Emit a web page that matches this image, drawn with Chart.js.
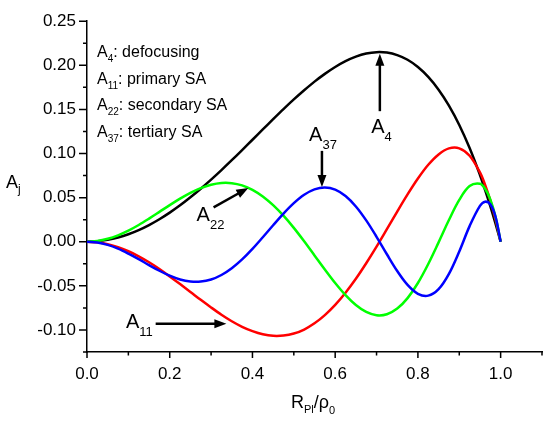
<!DOCTYPE html>
<html>
<head>
<meta charset="utf-8">
<script src="https://cdn.jsdelivr.net/npm/chart.js@4/dist/chart.umd.min.js"></script>
<style>
  body { margin: 0; background: #fff; }
</style>
</head>
<body>
<canvas id="chart" width="550" height="422"></canvas>
<script>
// radius values (R_Pl / rho_0)
const rValues = [0, 0.025, 0.05, 0.075, 0.1, 0.125, 0.15, 0.175, 0.2, 0.225, 0.25, 0.275, 0.3, 0.325, 0.35, 0.375,
    0.4, 0.425, 0.45, 0.475, 0.5, 0.525, 0.55, 0.575, 0.6, 0.625, 0.65, 0.675, 0.7, 0.725, 0.75, 0.775, 0.8, 0.825,
    0.85, 0.875, 0.9, 0.925, 0.95, 0.9625, 0.975, 0.9875, 1.0];

// A4: defocusing
const a4Values = [0, 0.0005, 0.0021, 0.0048, 0.0085, 0.0132, 0.0189, 0.0255, 0.0330, 0.0413, 0.0504, 0.0601, 0.0704,
    0.0812, 0.0924, 0.1039, 0.1156, 0.1273, 0.1389, 0.1503, 0.1613, 0.1717, 0.1815, 0.1903, 0.1981, 0.2047, 0.2098,
    0.2133, 0.2149, 0.2144, 0.2116, 0.2063, 0.1981, 0.1869, 0.1724, 0.1543, 0.1324, 0.1062, 0.0757, 0.0586, 0.0404,
    0.0208, 0];

// A11: primary SA
const a11Values = [0, -0.0007, -0.0028, -0.0061, -0.0108, -0.0165, -0.0233, -0.0309, -0.0393, -0.0480, -0.0569,
    -0.0659, -0.0745, -0.0827, -0.0901, -0.0964, -0.1013, -0.1049, -0.1067, -0.1064, -0.1041, -0.0995, -0.0925,
    -0.0832, -0.0716, -0.0578, -0.0420, -0.0244, -0.0056, 0.0142, 0.0342, 0.0536, 0.0716, 0.0872, 0.0990, 0.1058,
    0.1059, 0.0975, 0.0786, 0.0645, 0.0470, 0.0256, 0];

// A22: secondary SA
const a22Values = [0, 0.0008, 0.0033, 0.0073, 0.0126, 0.0190, 0.0262, 0.0338, 0.0415, 0.0488, 0.0554, 0.0608, 0.0646,
    0.0666, 0.0664, 0.0639, 0.0589, 0.0514, 0.0415, 0.0295, 0.0157, 0.0005, -0.0155, -0.0315, -0.0468, -0.0605,
    -0.0717, -0.0796, -0.0833, -0.0822, -0.0758, -0.0639, -0.0468, -0.0252, -0.0007, 0.0246, 0.0474, 0.0631, 0.0658,
    0.0600, 0.0480, 0.0285, 0];

// A37: tertiary SA
const a37Values = [0, -0.0009, -0.0036, -0.0079, -0.0135, -0.0198, -0.0265, -0.0329, -0.0385, -0.0428, -0.0451,
    -0.0452, -0.0428, -0.0377, -0.0300, -0.0200, -0.0081, 0.0051, 0.0187, 0.0319, 0.0437, 0.0532, 0.0593, 0.0614,
    0.0590, 0.0518, 0.0400, 0.0242, 0.0056, -0.0142, -0.0332, -0.0489, -0.0590, -0.0611, -0.0537, -0.0364, -0.0110,
    0.0177, 0.0406, 0.0454, 0.0424, 0.0285, 0];

const legendLines = [
    ['A', '4', ': defocusing'],
    ['A', '11', ': primary SA'],
    ['A', '22', ': secondary SA'],
    ['A', '37', ': tertiary SA']
];

const xMajorTicks = [0, 0.2, 0.4, 0.6, 0.8, 1.0];
const xMinorTicks = [0.1, 0.3, 0.5, 0.7, 0.9, 1.1];
const yMajorTicks = [-0.10, -0.05, 0, 0.05, 0.10, 0.15, 0.20, 0.25];
const yMinorTicks = [-0.125, -0.075, -0.025, 0.025, 0.075, 0.125, 0.175, 0.225];

// arrows + labels, in data units
const notes = [
    { sub: '4', tx: 0.687, ty: 0.1233, from: [0.708, 0.148], to: [0.708, 0.213] },
    { sub: '37', tx: 0.537, ty: 0.1144, from: [0.568, 0.103], to: [0.568, 0.062] },
    { sub: '22', tx: 0.265, ty: 0.0233, from: [0.306, 0.039], to: [0.390, 0.061] },
    { sub: '11', tx: 0.094, ty: -0.0978, from: [0.166, -0.093], to: [0.337, -0.093] }
];

const FONT = 'Arial, "Liberation Sans", sans-serif';

function toPoints(ys) {
    return rValues.map((r, i) => ({ x: r, y: ys[i] }));
}

function drawSub(ctx, x, y, base, sub, rest, size, subSize, drop) {
    ctx.font = size + 'px ' + FONT;
    ctx.fillText(base, x, y);
    x += ctx.measureText(base).width;
    ctx.font = subSize + 'px ' + FONT;
    ctx.fillText(sub, x, y + drop);
    x += ctx.measureText(sub).width;
    if (rest) {
        ctx.font = size + 'px ' + FONT;
        ctx.fillText(rest, x, y);
    }
}

function arrow(ctx, x1, y1, x2, y2) {
    const a = Math.atan2(y2 - y1, x2 - x1);
    const c = Math.cos(a), s = Math.sin(a);
    const hl = 12, hw = 4.5;
    ctx.lineWidth = 2.5;
    ctx.beginPath();
    ctx.moveTo(x1, y1);
    ctx.lineTo(x2 - c * hl * 0.7, y2 - s * hl * 0.7);
    ctx.stroke();
    ctx.beginPath();
    ctx.moveTo(x2, y2);
    ctx.lineTo(x2 - hl * c + hw * s, y2 - hl * s - hw * c);
    ctx.lineTo(x2 - hl * c - hw * s, y2 - hl * s + hw * c);
    ctx.closePath();
    ctx.fill();
}

const extras = {
    id: 'extras',
    afterDraw(chart) {
        const ctx = chart.ctx;
        const xs = chart.scales.x, ys = chart.scales.y;
        const area = chart.chartArea;
        ctx.save();
        ctx.strokeStyle = '#000';
        ctx.fillStyle = '#000';
        ctx.textBaseline = 'alphabetic';
        ctx.textAlign = 'left';

        // tick marks
        ctx.lineWidth = 1.5;
        ctx.beginPath();
        xMajorTicks.forEach(v => { const p = xs.getPixelForValue(v); ctx.moveTo(p, area.bottom); ctx.lineTo(p, area.bottom + 6); });
        xMinorTicks.forEach(v => { const p = xs.getPixelForValue(v); ctx.moveTo(p, area.bottom); ctx.lineTo(p, area.bottom + 3.5); });
        yMajorTicks.forEach(v => { const p = ys.getPixelForValue(v); ctx.moveTo(area.left, p); ctx.lineTo(area.left - 8, p); });
        yMinorTicks.forEach(v => { const p = ys.getPixelForValue(v); ctx.moveTo(area.left, p); ctx.lineTo(area.left - 4, p); });
        ctx.stroke();

        // legend block
        legendLines.forEach((l, i) => {
            drawSub(ctx, 97, 57 + i * 26.5, l[0], l[1], l[2], 16, 10, 5);
        });

        // annotations
        notes.forEach(n => {
            drawSub(ctx, xs.getPixelForValue(n.tx), ys.getPixelForValue(n.ty), 'A', n.sub, '', 20, 13, 8);
            arrow(ctx, xs.getPixelForValue(n.from[0]), ys.getPixelForValue(n.from[1]),
                xs.getPixelForValue(n.to[0]), ys.getPixelForValue(n.to[1]));
        });

        // axis titles
        drawSub(ctx, 6, 188, 'A', 'j', '', 18, 12, 5);
        ctx.font = '18px ' + FONT;
        let x = 291;
        ctx.fillText('R', x, 408); x += ctx.measureText('R').width;
        ctx.font = '11px ' + FONT;
        ctx.fillText('Pl', x, 413); x += ctx.measureText('Pl').width;
        ctx.font = '18px ' + FONT;
        ctx.fillText('/\u03c1', x, 408); x += ctx.measureText('/\u03c1').width;
        ctx.font = '11px ' + FONT;
        ctx.fillText('0', x, 414);
        ctx.restore();
    }
};

const line = (data, color, order) => ({
    data: toPoints(data),
    borderColor: color,
    borderWidth: 2.5,
    pointRadius: 0,
    fill: false,
    tension: 0.35,
    order: order
});

new Chart(document.getElementById('chart').getContext('2d'), {
    type: 'line',
    data: {
        datasets: [
            line(a4Values, '#000000', 4),
            line(a11Values, '#ff0000', 3),
            line(a22Values, '#00ff00', 2),
            line(a37Values, '#0000ff', 1)
        ]
    },
    options: {
        responsive: false,
        animation: false,
        layout: { padding: { top: 14, right: 8, left: 0, bottom: 0 } },
        plugins: { legend: { display: false }, tooltip: { enabled: false } },
        scales: {
            x: {
                type: 'linear',
                min: 0,
                max: 1.1,
                grid: { display: false, drawTicks: false },
                border: { display: true, color: '#000', width: 1.5 },
                ticks: {
                    stepSize: 0.2,
                    includeBounds: false,
                    padding: 12,
                    color: '#000',
                    font: { size: 17, family: FONT },
                    maxRotation: 0,
                    callback: v => v.toFixed(1)
                },
                afterFit: s => { s.height = 70; }
            },
            y: {
                min: -0.125,
                max: 0.25,
                grid: { display: false, drawTicks: false },
                border: { display: true, color: '#000', width: 1.5 },
                ticks: {
                    stepSize: 0.05,
                    includeBounds: false,
                    padding: 11,
                    color: '#000',
                    font: { size: 17, family: FONT },
                    callback: v => v.toFixed(2)
                },
                afterFit: s => { s.width = 87; }
            }
        }
    },
    plugins: [extras]
});
</script>
</body>
</html>
